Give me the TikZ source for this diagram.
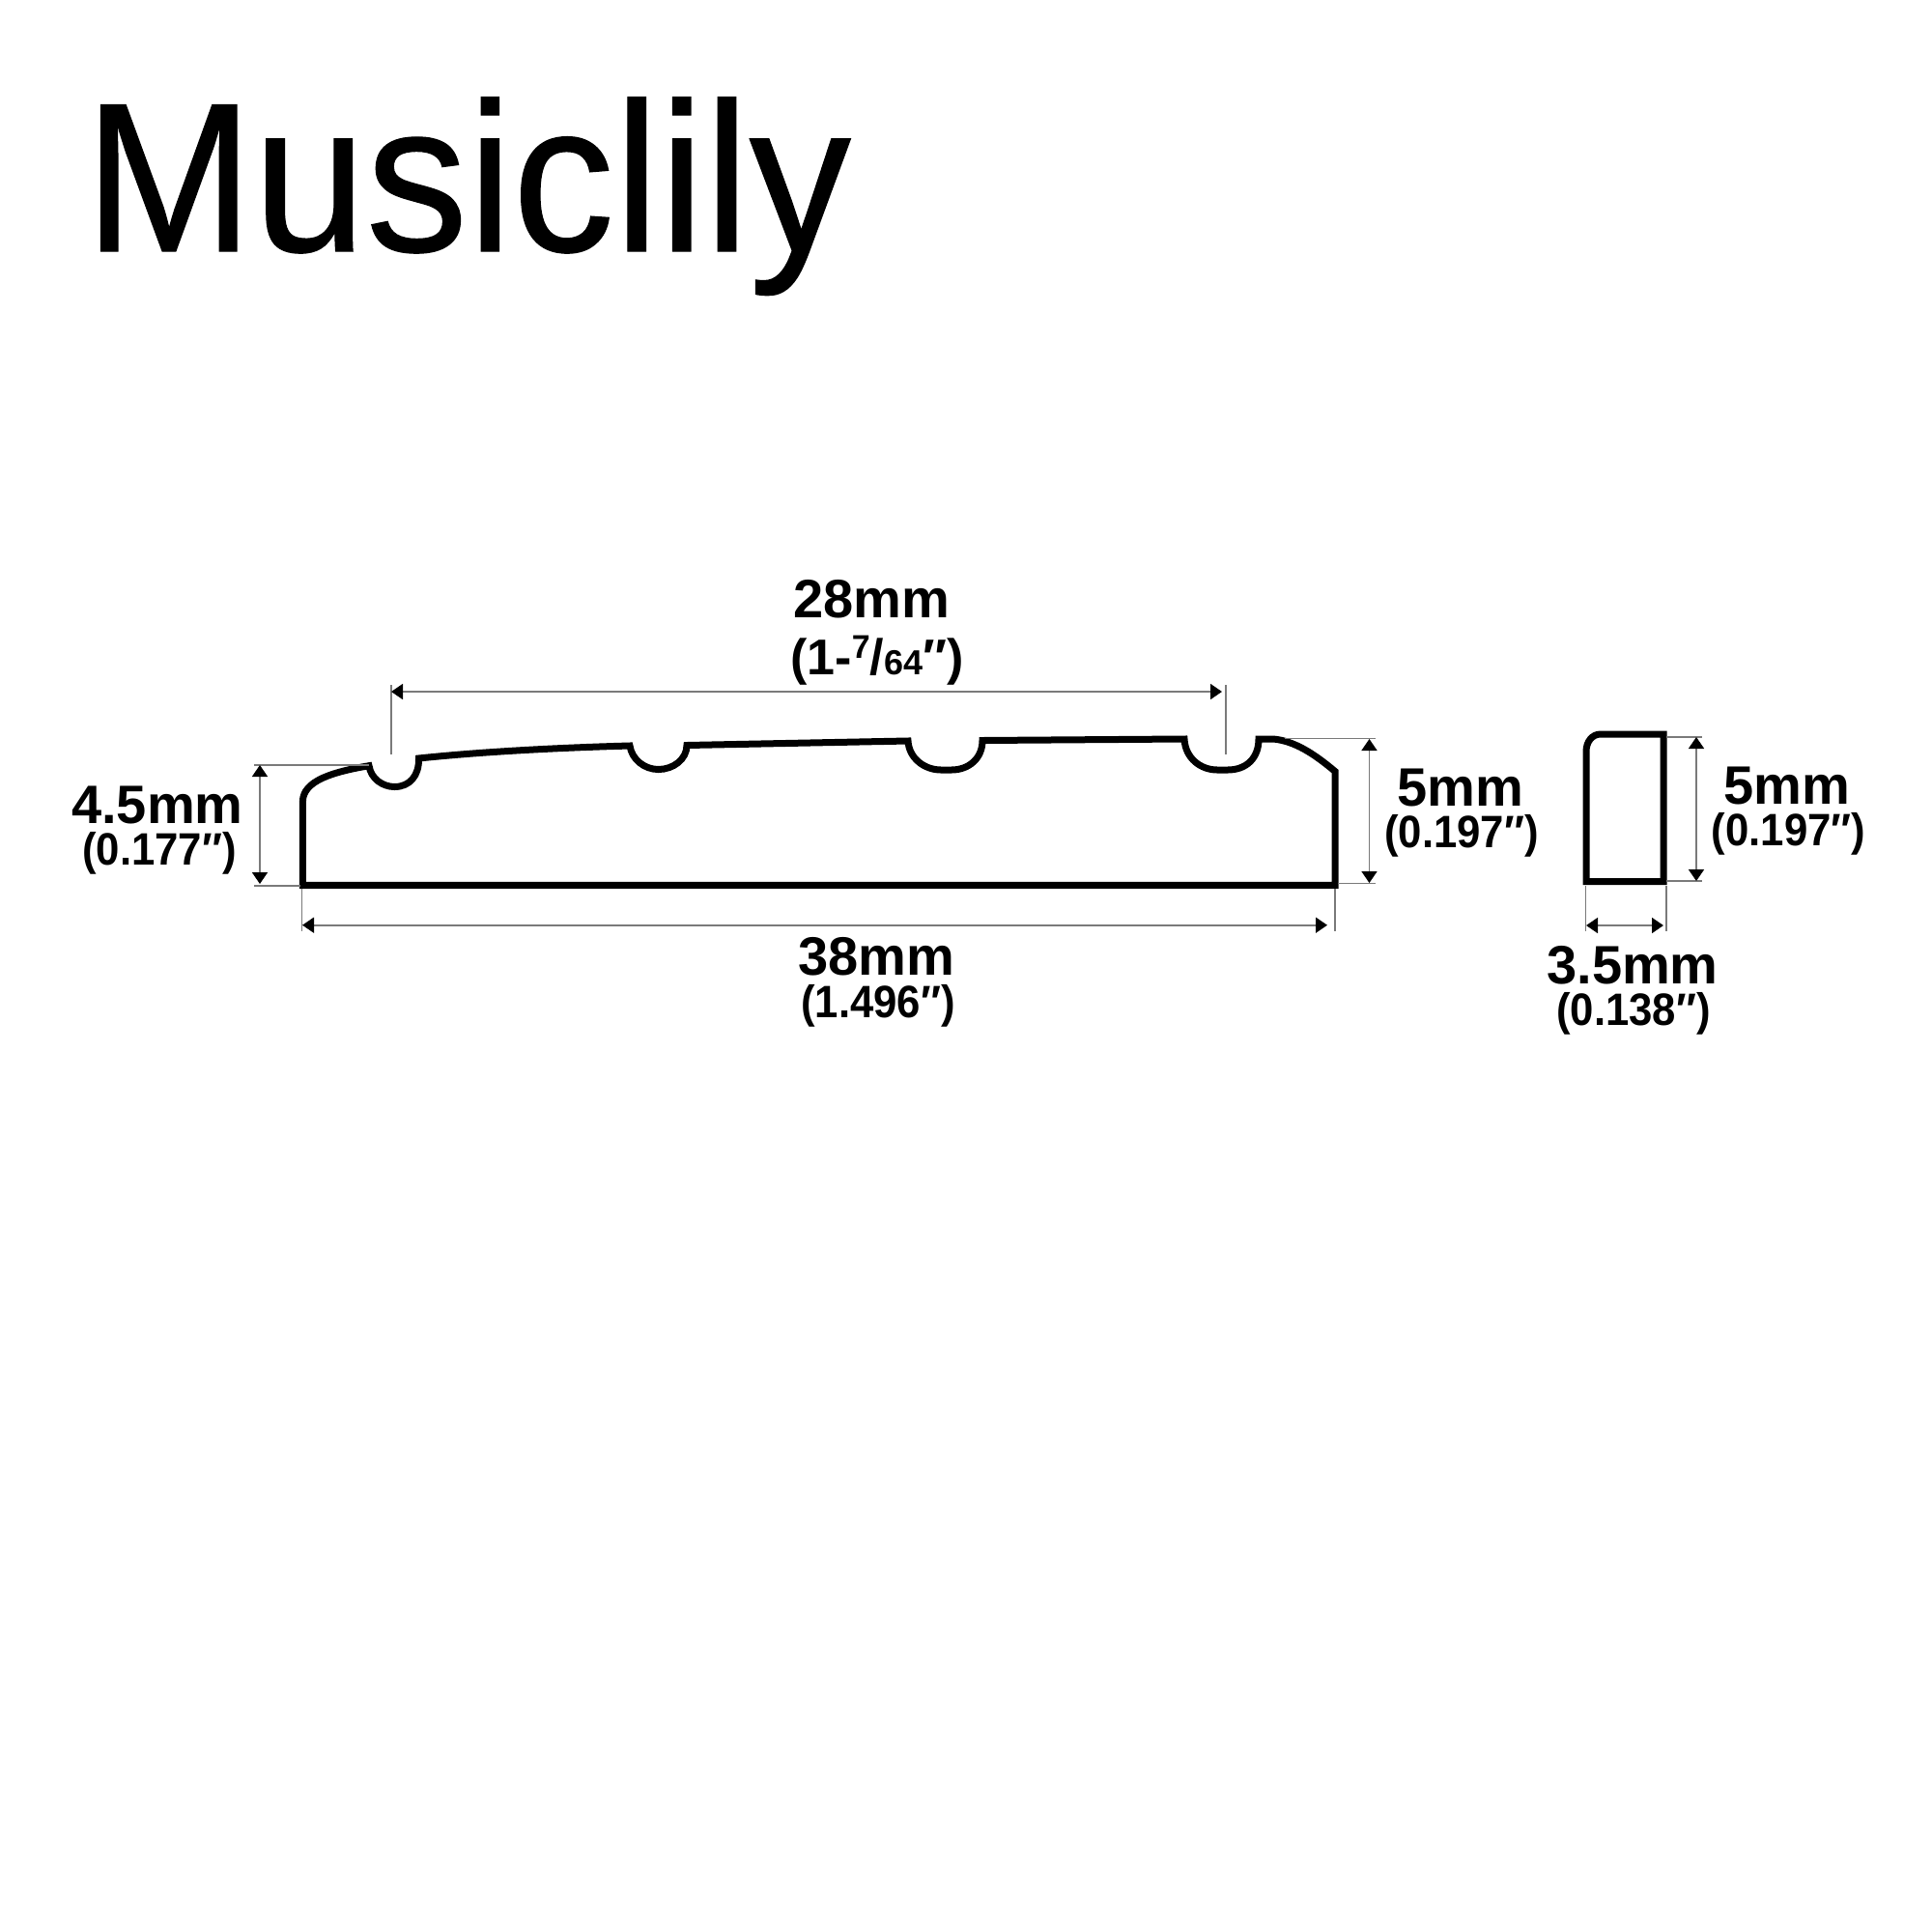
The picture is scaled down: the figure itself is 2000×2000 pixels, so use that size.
\documentclass[tikz,border=0pt]{standalone}
\usepackage{fontspec}
\usepackage{graphicx}
\setmainfont{Liberation Sans}
\newfontfamily\titlefont[FakeBold=0.6]{Liberation Sans}
\newcommand{\inchtext}[1]{\scalebox{0.93}[1]{#1}}
\usetikzlibrary{arrows.meta}
\tikzset{
  x=1pt,y=-1pt,
  outline/.style={draw=black,line width=7pt,line join=miter,miter limit=10},
  extline/.style={draw=black!52,line width=1.6pt},
  dimline/.style={draw=black!52,line width=1.6pt,
    {Triangle[length=12pt,width=16pt,color=black]}-{Triangle[length=12pt,width=16pt,color=black]}},
  titletext/.style={anchor=base west,inner sep=0pt,font=\fontsize{220}{220}\selectfont\titlefont},
  mmtext/.style={anchor=base,inner sep=0pt,font=\fontsize{56}{56}\selectfont\bfseries},
  intext/.style={anchor=base,inner sep=0pt,font=\fontsize{47}{47}\selectfont\bfseries},
  fractext/.style={anchor=base,inner sep=0pt,font=\fontsize{52}{52}\selectfont\bfseries}
}
\begin{document}
\begin{tikzpicture}
\useasboundingbox (0,0) rectangle (2000,2000);
\fill[white] (0,0) rectangle (2000,2000);

\node[titletext] (title) at (87,260) {\scalebox{0.955}[1]{Musiclily}};

% main profile
\draw[outline] (313.4,916.3) -- (313.4,830)
  .. controls (313.4,808) and (345,799) .. (382,792.7)
  .. controls (384,806) and (396,814.5) .. (408.5,814.5)
  .. controls (424,814.5) and (434,803) .. (433.5,785)
  .. controls (500,778) and (580,774) .. (652,772)
  .. controls (654,786) and (667,796.5) .. (681.5,796.5)
  .. controls (697,796.5) and (711,786) .. (711,771.5)
  -- (940,767)
  .. controls (941,785) and (957,797) .. (974,797)
  -- (985,797)
  .. controls (1003,797) and (1017,785) .. (1017,766.5)
  -- (1226,765)
  .. controls (1227,785) and (1243,797) .. (1260,797)
  -- (1271,797)
  .. controls (1290,797) and (1303,785) .. (1303,765)
  -- (1318,765)
  .. controls (1340,767) and (1360,780) .. (1382,798.5)
  -- (1382,916.3) -- cycle;

% end view
\draw[outline] (1642,912.7) -- (1642,778)
  .. controls (1642,768) and (1648,760) .. (1657,760)
  -- (1722,760) -- (1722,912.7) -- cycle;

% 28mm
\coordinate (a1) at (405,709); \coordinate (a2) at (405,781);
\coordinate (a3) at (1269,709); \coordinate (a4) at (1269,781);
\coordinate (a5) at (405,716); \coordinate (a6) at (1265,716);
\draw[extline] (a1) -- (a2);
\draw[extline] (a3) -- (a4);
\draw[dimline] (a5) -- (a6);
\node[mmtext] (t28) at (902,639) {28mm};
\node[fractext] (i28) at (908,698) {(1-\raisebox{17pt}{\fontsize{34}{34}\selectfont 7}/{\fontsize{36}{36}\selectfont 64}″)};

% 4.5mm
\coordinate (b1) at (263,791.7); \coordinate (b2) at (382,791.7);
\coordinate (b3) at (263,917); \coordinate (b4) at (311,917);
\coordinate (b5) at (269,792); \coordinate (b6) at (269,915);
\draw[extline] (b1) -- (b2);
\draw[extline] (b3) -- (b4);
\draw[dimline] (b5) -- (b6);
\node[mmtext] (t45) at (163,852) {4.5mm};
\node[intext] (i45) at (165,895) {\inchtext{(0.177″)}};

% 38mm
\coordinate (c1) at (312.5,920); \coordinate (c2) at (312.5,964);
\coordinate (c3) at (1381.7,920); \coordinate (c4) at (1381.7,964);
\coordinate (c5) at (313,957.7); \coordinate (c6) at (1374,957.7);
\draw[extline] (c1) -- (c2);
\draw[extline] (c3) -- (c4);
\draw[dimline] (c5) -- (c6);
\node[mmtext] (t38) at (907.6,1009) {38mm};
\node[intext] (i38) at (909,1053) {\inchtext{(1.496″)}};

% 5mm, main profile
\coordinate (d1) at (1330,764.3); \coordinate (d2) at (1424,764.3);
\coordinate (d3) at (1385,914.3); \coordinate (d4) at (1424,914.3);
\coordinate (d5) at (1417.5,765); \coordinate (d6) at (1417.5,914);
\draw[extline] (d1) -- (d2);
\draw[extline] (d3) -- (d4);
\draw[dimline] (d5) -- (d6);
\node[mmtext] (t5a) at (1512,834) {5mm};
\node[intext] (i5a) at (1513,877) {\inchtext{(0.197″)}};

% 5mm, end view
\coordinate (e1) at (1725,762.7); \coordinate (e2) at (1762,762.7);
\coordinate (e3) at (1725,912); \coordinate (e4) at (1762,912);
\coordinate (e5) at (1756,763); \coordinate (e6) at (1756,912);
\draw[extline] (e1) -- (e2);
\draw[extline] (e3) -- (e4);
\draw[dimline] (e5) -- (e6);
\node[mmtext] (t5b) at (1850,832.7) {5mm};
\node[intext] (i5b) at (1851.5,875.7) {\inchtext{(0.197″)}};

% 3.5mm
\coordinate (f1) at (1641.5,917); \coordinate (f2) at (1641.5,964);
\coordinate (f3) at (1725,917); \coordinate (f4) at (1725,964);
\coordinate (f5) at (1642,958); \coordinate (f6) at (1722,958);
\draw[extline] (f1) -- (f2);
\draw[extline] (f3) -- (f4);
\draw[dimline] (f5) -- (f6);
\node[mmtext] (t35) at (1690,1018) {3.5mm};
\node[intext] (i35) at (1691,1061.7) {\inchtext{(0.138″)}};
\end{tikzpicture}
\end{document}
